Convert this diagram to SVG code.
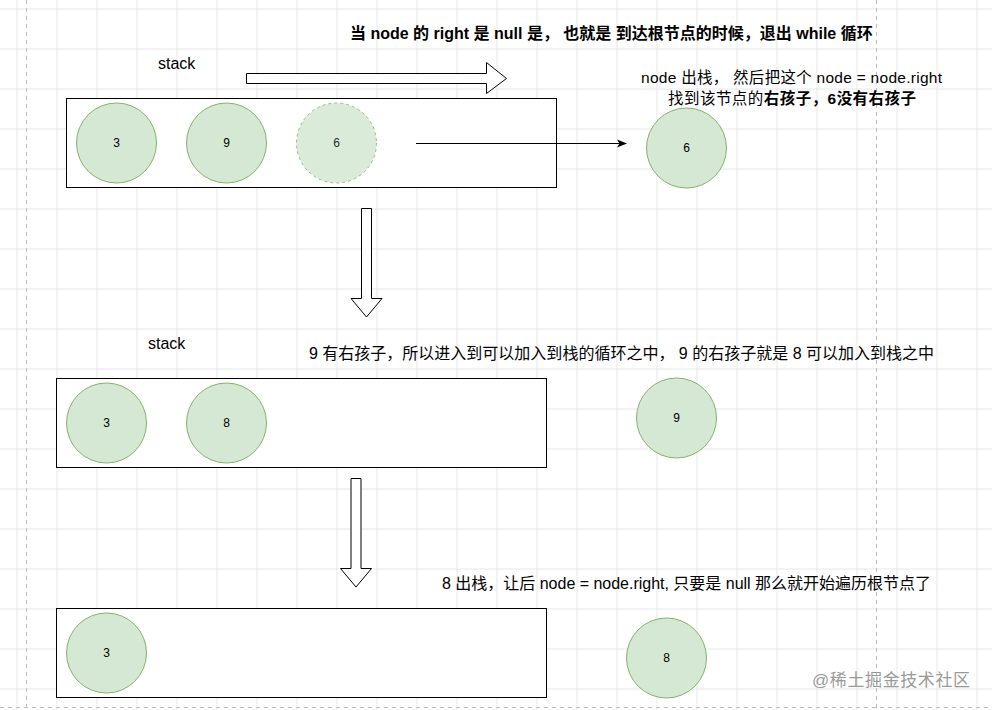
<svg xmlns="http://www.w3.org/2000/svg" width="992" height="710" viewBox="0 0 992 710">
  <defs>
    <pattern id="grid" x="16.5" y="8.5" width="40" height="40" patternUnits="userSpaceOnUse">
      <path d="M0 0.5 H40 M0.5 0 V40" fill="none" stroke="#e6e6e6" stroke-width="1"/>
    </pattern>
    <marker id="arrow" viewBox="0 0 10 10" refX="9" refY="5" markerWidth="10" markerHeight="10" markerUnits="userSpaceOnUse" orient="auto">
      <path d="M0 1 L10 5 L0 9 L2.5 5 Z" fill="#000"/>
    </marker>
    <style>
      .t { font-family: "Liberation Sans", "Noto Sans CJK SC", sans-serif; fill: #000; }
      .n { font-family: "Liberation Sans", "Noto Sans CJK SC", sans-serif; font-size: 12px; fill: #000; text-anchor: middle; }
      .node { fill: #d5e8d4; stroke: #82b366; stroke-width: 1; }
      .stack { fill: #fff; stroke: #000; stroke-width: 1; }
      .hollow { fill: #fff; stroke: #000; stroke-width: 1; stroke-linejoin: miter; }
      .page { stroke: #bdbdbd; stroke-width: 1; stroke-dasharray: 4 4; fill: none; }
    </style>
  </defs>

  <rect width="992" height="710" fill="#fff"/>
  <rect width="992" height="710" fill="url(#grid)"/>
  <path class="page" d="M26.5 0 V710 M876.5 0 V710 M0 707.5 H992"/>

  <!-- texts -->
  <g id="title">
    <text class="t" x="350" y="39" font-size="16" font-weight="bold">当 node 的 right 是 null 是， 也就是 到达根节点的时候，退出 while 循环</text>
  </g>
  <g id="stack-label-1"><text class="t" x="158" y="69" font-size="16">stack</text></g>
  <g id="stack-label-2"><text class="t" x="148" y="349" font-size="16">stack</text></g>
  <g id="note-1">
    <text class="t" x="641" y="83" font-size="15.5" textLength="301" lengthAdjust="spacing">node 出栈， 然后把这个 node = node.right</text>
    <text class="t" x="668" y="104" font-size="15.5" textLength="248" lengthAdjust="spacing">找到该节点的<tspan font-weight="bold">右孩子，6没有右孩子</tspan></text>
  </g>
  <g id="note-2">
    <text class="t" x="309" y="359" font-size="16" textLength="625" lengthAdjust="spacing">9 有右孩子，所以进入到可以加入到栈的循环之中， 9 的右孩子就是 8 可以加入到栈之中</text>
  </g>
  <g id="note-3">
    <text class="t" x="442" y="589" font-size="16" textLength="489" lengthAdjust="spacing">8 出栈，让后 node = node.right, 只要是 null 那么就开始遍历根节点了</text>
  </g>

  <!-- stack 1 -->
  <g id="stack-1">
    <rect class="stack" x="66.5" y="98.5" width="490" height="89"/>
  </g>
  <g id="s1-node-3"><circle class="node" cx="116.5" cy="143" r="40"/><text class="n" x="116.5" y="147">3</text></g>
  <g id="s1-node-9"><circle class="node" cx="226.5" cy="143" r="40"/><text class="n" x="226.5" y="147">9</text></g>
  <g id="s1-node-6" opacity="0.85"><circle class="node" cx="336.5" cy="143" r="40" stroke="#9aa89a" stroke-dasharray="3 3"/><text class="n" x="336.5" y="147">6</text></g>
  <g id="out-node-6"><circle class="node" cx="686.5" cy="148" r="40"/><text class="n" x="686.5" y="152">6</text></g>

  <!-- stack 2 -->
  <g id="stack-2">
    <rect class="stack" x="56.5" y="378.5" width="490" height="89"/>
  </g>
  <g id="s2-node-3"><circle class="node" cx="106.5" cy="423" r="40"/><text class="n" x="106.5" y="427">3</text></g>
  <g id="s2-node-8"><circle class="node" cx="226.5" cy="423" r="40"/><text class="n" x="226.5" y="427">8</text></g>
  <g id="out-node-9"><circle class="node" cx="676.5" cy="418" r="40"/><text class="n" x="676.5" y="422">9</text></g>

  <!-- stack 3 -->
  <g id="stack-3">
    <rect class="stack" x="56.5" y="608.5" width="490" height="89"/>
  </g>
  <g id="s3-node-3"><circle class="node" cx="106.5" cy="653" r="40"/><text class="n" x="106.5" y="657">3</text></g>
  <g id="out-node-8"><circle class="node" cx="666.5" cy="658" r="40"/><text class="n" x="666.5" y="662">8</text></g>

  <!-- connectors -->
  <g id="connectors">
    <path class="hollow" d="M246.5 73.5 H486.5 V62.5 L506.5 78.5 L486.5 93.5 V83.5 H246.5 Z"/>
    <line x1="416" y1="143.5" x2="626" y2="143.5" stroke="#000" stroke-width="1" marker-end="url(#arrow)"/>
    <path class="hollow" d="M361.5 208.5 H371.5 V298.5 H382 L366.5 317 L351 298.5 H361.5 Z"/>
    <path class="hollow" d="M351 478.5 H361 V568.5 H371.5 L356 587 L340.5 568.5 H351 Z"/>
  </g>

  <g id="watermark">
    <text x="812" y="686" font-family="'Liberation Sans', 'Noto Sans CJK SC', sans-serif" font-size="17" fill="#9a9a9a" textLength="158" lengthAdjust="spacing">@稀土掘金技术社区</text>
  </g>
</svg>
